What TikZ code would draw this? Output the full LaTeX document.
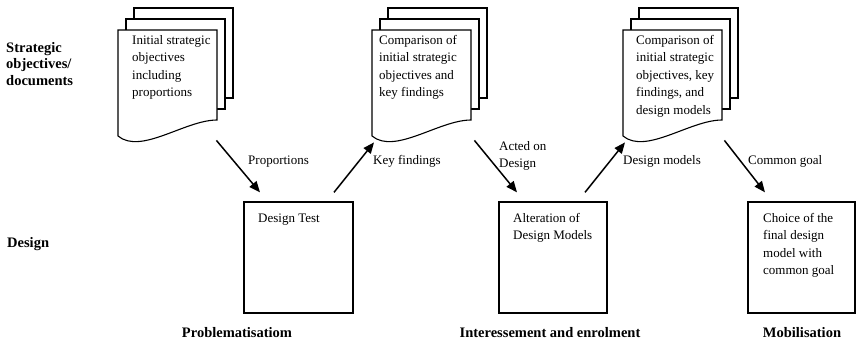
\documentclass[tikz,border=0pt]{standalone}
\usepackage{fontspec}
\setmainfont{Liberation Serif}
\usetikzlibrary{arrows.meta,calc}
\newcommand\mylines[1]{\begin{tabular}[t]{@{}l@{}}#1\end{tabular}}
\tikzset{
  page/.style={draw, line width=1.1pt, fill=white},
  boxst/.style={draw, line width=1.3pt, minimum height=111pt, inner sep=0},
  arr/.style={line width=1.5pt, -{Triangle[length=11pt,width=9pt]}},
  txt/.style={font=\fontsize{13}{17.5}\selectfont, inner sep=0, anchor=base west},
  head/.style={font=\fontsize{14.5}{16.5}\selectfont\bfseries, inner sep=0},
}
\newcommand\docstack[3]{%
  \draw[page] ({#1+16},8) rectangle ({#1+115},98);
  \draw[page] ({#1+8},19) rectangle ({#1+107},109);
  \draw[page] (#1,30) -- ({#1+99},30) -- ({#1+99},120) .. controls ({#1+67},120) and ({#1+23},155) .. (#1,136) -- cycle;
  \node[inner sep=0, minimum width=99pt, minimum height=106pt, anchor=north west] (#2) at (#1,30) {};
}
\begin{document}
\begin{tikzpicture}[x=1pt,y=-1pt]
\useasboundingbox (0,0) rectangle (857,343);
% documents
\docstack{118}{d1}{}
\docstack{372}{d2}{}
\docstack{623}{d3}{}
\node[txt] (t1) at (132,44) {\mylines{Initial strategic\\objectives\\including\\proportions}};
\node[txt] (t2) at (379,44) {\mylines{Comparison of\\initial strategic\\objectives and\\key findings}};
\node[txt] (t3) at (636,44) {\mylines{Comparison of\\initial strategic\\objectives, key\\findings, and\\design models}};
% boxes
\node[boxst, minimum width=109pt] (b1) at (298.5,257.5) {};
\node[boxst, minimum width=108pt] (b2) at (553,257.5) {};
\node[boxst, minimum width=107pt] (b3) at (801.5,257.5) {};
\node[txt] (bt1) at (258,222) {\mylines{Design Test}};
\node[txt] (bt2) at (513,222) {\mylines{Alteration of\\Design Models}};
\node[txt] (bt3) at (763,222) {\mylines{Choice of the\\final design\\model with\\common goal}};
% arrows
\draw[arr] ($(d1.south east)+(-1,4)$) -- ($(b1.north)+(-38.5,-9)$);
\draw[arr] ($(b1.north)+(35.5,-9)$) -- ($(d2.south west)+(2,6)$);
\draw[arr] ($(d2.south east)+(3,4)$) -- ($(b2.north)+(-36,-9)$);
\draw[arr] ($(b2.north)+(32,-9)$) -- ($(d3.south west)+(2,6)$);
\draw[arr] ($(d3.south east)+(2,4)$) -- ($(b3.north)+(-36.5,-9)$);
% arrow labels
\node[txt] (l1) at (248,164) {Proportions};
\node[txt] (l2) at (373,164) {Key findings};
\node[txt] (l3) at (499,150) {\mylines{Acted on\\Design}};
\node[txt] (l4) at (623,164) {Design models};
\node[txt] (l5) at (748,164) {Common goal};
% row and column headings
\node[head, anchor=base west] (h1) at (6,52) {\mylines{Strategic\\objectives/\\documents}};
\node[head, anchor=base west] (h2) at (7,247) {Design};
\node[head, anchor=base] (c1) at (237,337) {Problematisatiom};
\node[head, anchor=base] (c2) at (550,337) {Interessement and enrolment};
\node[head, anchor=base] (c3) at (802,337) {Mobilisation};
\end{tikzpicture}
\end{document}
